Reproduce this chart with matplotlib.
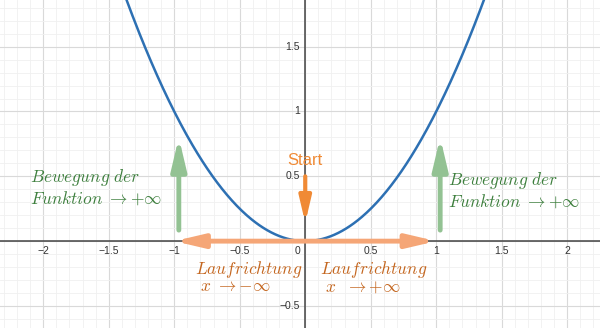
import numpy as np
import matplotlib.pyplot as plt
from matplotlib.ticker import MultipleLocator

plt.rcParams['mathtext.fontset'] = 'cm'
plt.rcParams['font.family'] = ['Liberation Sans', 'DejaVu Sans']

# data
x_ticks = [-2, -1.5, -1, -0.5, 0.5, 1, 1.5, 2]
y_ticks = [-0.5, 0.5, 1, 1.5]
x_curve = np.linspace(-1.5, 1.5, 400)
y_curve = x_curve ** 2

xlim = (-2.33, 2.25)
ylim = (-0.67, 1.86)

blue = '#2d70b3'
green_arrow = '#93c293'
green_text = '#3d7f3d'
orange_arrow = '#f5a677'
orange_start = '#f08a35'
orange_text = '#c4661f'

fig = plt.figure(figsize=(6, 3.28), dpi=100)
ax = fig.add_axes([0, 0, 1, 1])
ax.set_xlim(*xlim)
ax.set_ylim(*ylim)

# grid
ax.xaxis.set_major_locator(MultipleLocator(0.5))
ax.yaxis.set_major_locator(MultipleLocator(0.5))
ax.xaxis.set_minor_locator(MultipleLocator(0.1))
ax.yaxis.set_minor_locator(MultipleLocator(0.1))
ax.grid(which='major', color='#d9d9d9', lw=0.8)
ax.grid(which='minor', color='#f0f0f0', lw=0.6)
ax.set_axisbelow(True)
ax.tick_params(which='both', length=0, labelbottom=False, labelleft=False)
for s in ax.spines.values():
    s.set_visible(False)

ax.axhline(0, color='#444444', lw=1.1, zorder=1)
ax.axvline(0, color='#444444', lw=1.1, zorder=1)

# tick labels
for t in x_ticks:
    lab = f'{t:g}'.replace('-', '\u2212')
    ax.text(t, -0.075, lab, ha='center', va='center', fontsize=7.5, color='#333333')
for t in y_ticks:
    lab = f'{t:g}'.replace('-', '\u2212')
    ax.text(-0.04, t, lab, ha='right', va='center', fontsize=7.5, color='#333333')
ax.text(-0.04, -0.075, '0', ha='right', va='center', fontsize=7.5, color='#333333')

# parabola
ax.plot(x_curve, y_curve, color=blue, lw=1.8, zorder=3)

# green arrows
for gx in [-0.965, 1.03]:
    ax.annotate('', xy=(gx, 0.8), xytext=(gx, 0.085),
                arrowprops=dict(arrowstyle='-|>,head_width=0.45,head_length=1.9',
                                color=green_arrow, lw=3.5, shrinkA=0, shrinkB=0),
                zorder=2)

# orange double arrow
ax.annotate('', xy=(1.0, 0), xytext=(-1.0, 0),
            arrowprops=dict(arrowstyle='<|-|>,head_width=0.4,head_length=1.7',
                            color=orange_arrow, lw=3.5, shrinkA=0, shrinkB=0),
            zorder=4)

# start arrow
ax.annotate('', xy=(0, 0.14), xytext=(0, 0.5),
            arrowprops=dict(arrowstyle='-|>,head_width=0.35,head_length=1.5',
                            color=orange_start, lw=3, shrinkA=0, shrinkB=0),
            zorder=5)
ax.text(0, 0.62, 'Start', ha='center', va='center', fontsize=12, color=orange_start)

# labels
fs = 12.5
green_label = r'$Bewegung\ der$' + '\n' + r'$Funktion\ \rightarrow{+}\infty$'
for lx, ly in [(-2.1, 0.415), (1.09, 0.395)]:
    ax.text(lx, ly, green_label, ha='left', va='center', fontsize=fs,
            color=green_text, linespacing=1.1)

left_label = r'$Laufrichtung$' + '\n' + r'$\,\,x\ \rightarrow{-}\infty$'
right_label = r'$Laufrichtung$' + '\n' + r'$\,\,x\ \ \rightarrow{+}\infty$'
ax.text(-0.84, -0.275, left_label, ha='left', va='center', fontsize=fs,
        color=orange_text, linespacing=0.95)
ax.text(0.11, -0.275, right_label, ha='left', va='center', fontsize=fs,
        color=orange_text, linespacing=0.95)

fig.savefig('out.png', dpi=100)
